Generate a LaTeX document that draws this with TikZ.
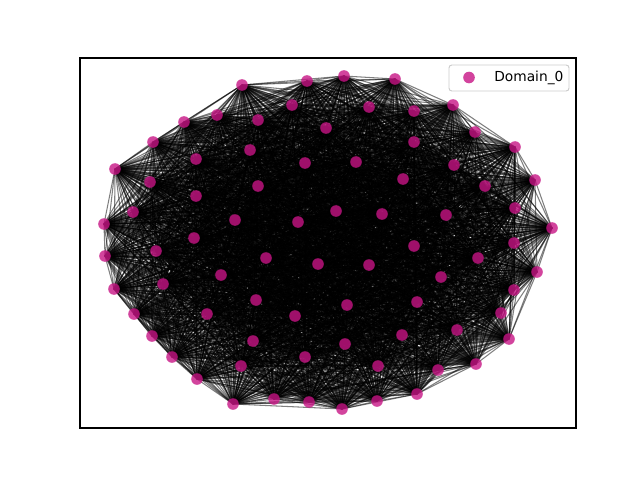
\documentclass[tikz,border=0pt]{standalone}
\usepackage{fontspec}
\setmainfont{DejaVu Sans}
\usepackage{tikz}
\usetikzlibrary{backgrounds}
\definecolor{domain}{HTML}{C71585}
\definecolor{legframe}{HTML}{CCCCCC}

\begin{document}
\begin{tikzpicture}[
  x=0.025cm,y=-0.025cm,
  vtx/.style={circle,fill=domain,fill opacity=0.8,inner sep=0pt,minimum size=0.29cm},
  edge/.style={black,draw opacity=0.5,line width=0.75pt},
  legbox/.style={draw=legframe,fill=white,rounded corners=2pt,line width=0.7pt}
]
  \useasboundingbox (0,0) rectangle (640,480);
  % axes frame
  \draw[line width=0.75pt] (80,58) rectangle (576,428);
  % vertices of Domain_0
  \foreach \px/\py [count=\k] in {
    242/85, 307/81, 344/76, 395/79, 453/105, 475/132, 515/147, 535/180,
    552/228, 537/272, 509/339, 476/364, 417/394, 377/401, 342/409, 309/402,
    274/399, 233/404, 197/379, 172/357, 152/336, 134/314, 114/289, 105/256,
    104/224, 115/169, 153/142, 184/122, 217/115, 258/120, 292/105, 326/128,
    369/107, 414/111, 414/142, 454/165, 485/186, 515/208, 514/243, 514/290,
    501/313, 457/330, 438/370, 378/366, 402/335, 345/344, 305/357, 241/366,
    253/341, 207/314, 163/284, 156/251, 133/212, 150/182, 196/159, 250/150,
    305/163, 356/162, 403/179, 446/215, 478/258, 441/277, 417/302, 414/246,
    369/265, 347/305, 295/316, 256/300, 221/275, 194/238, 196/196, 258/186,
    235/220, 298/222, 336/211, 382/214, 318/264, 266/258}
    \node[vtx] (n\k) at (\px,\py) {};
  % every pair is linked
  \begin{scope}[on background layer]
    \foreach \i in {1,...,77}{
      \pgfmathtruncatemacro{\nxt}{\i+1}
      \foreach \j in {\nxt,...,78}
        \draw[edge] (n\i.center) -- (n\j.center);
    }
  \end{scope}
  % legend
  \draw[legbox] (449,65) rectangle (569,91);
  \node[vtx] (legdot) at (469,77.5) {};
  \node[anchor=west,inner sep=0pt,font=\fontsize{9.8}{11}\selectfont] (legtext) at (494,77.5) {Domain\_0};
\end{tikzpicture}
\end{document}
